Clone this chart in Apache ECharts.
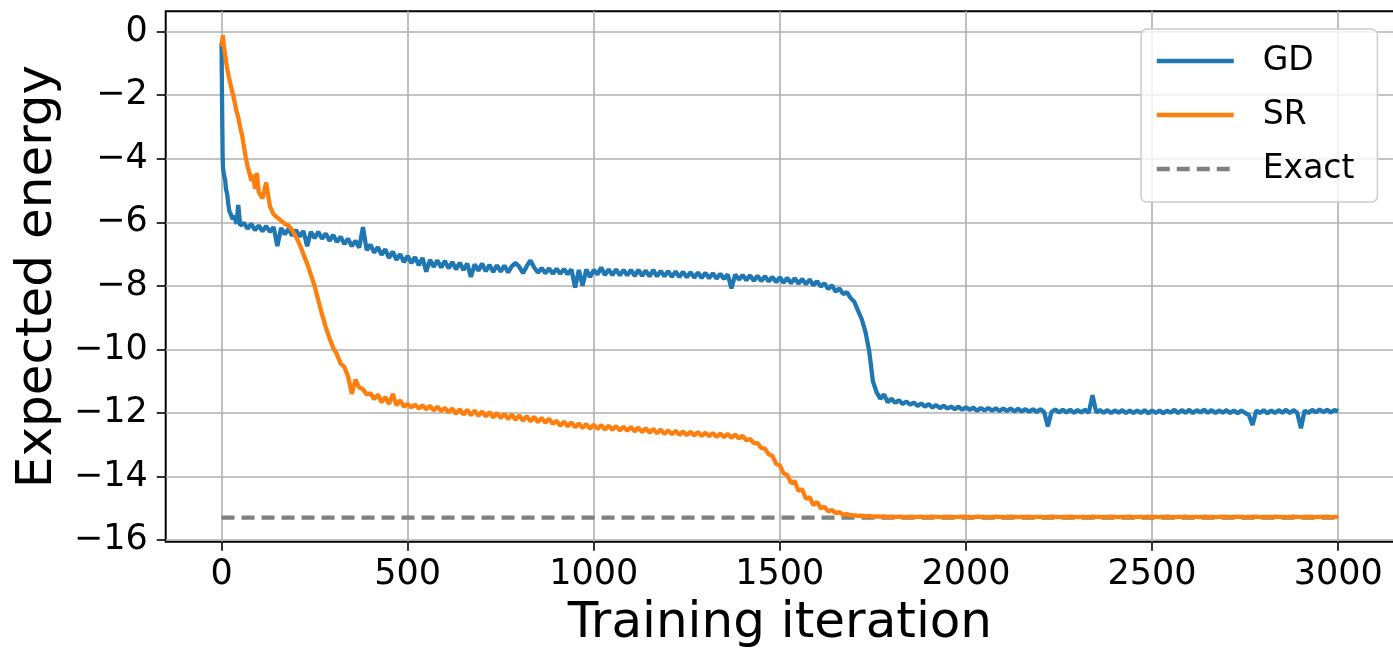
<!DOCTYPE html>
<html>
<head>
<meta charset="utf-8">
<script src="https://cdn.jsdelivr.net/npm/echarts@6/dist/echarts.min.js"></script>
<style>
html,body{margin:0;padding:0;background:#ffffff;}
#chart{width:1393px;height:651px;}
</style>
</head>
<body>
<div id="chart"></div>
<script>
// ---------- tick labels ----------
const xTicks = [0, 500, 1000, 1500, 2000, 2500, 3000];
const yTicks = [-16, -14, -12, -10, -8, -6, -4, -2, 0];

// ---------- series names ----------
const seriesNames = ['GD', 'SR', 'Exact'];

// ---------- GD (gradient descent) ----------
const gdEarlyIter = [0, 1, 2, 3, 4, 6, 8, 10, 12, 15, 18, 21, 25, 30, 35, 40, 45, 50];
const gdEarlyVal  = [-0.35, -1.6, -2.9, -3.9, -4.3, -4.45, -4.5, -4.7, -4.95, -5.1, -5.4, -5.65, -5.75, -5.9, -5.8, -6.05, -5.45, -6.1];
const gdStepStart = 60;   // iteration of first value in gdStepVal
const gdStepSize = 10;    // iterations between values in gdStepVal
const gdStepVal = [
  -6.02,-6.2,-6.05,-6.25,-6.1,-6.28,-6.12,-6.3,-6.15,-6.75,
  -6.18,-6.38,-6.2,-6.42,-6.24,-6.45,-6.27,-6.75,-6.3,-6.5,
  -6.3,-6.52,-6.35,-6.58,-6.4,-6.62,-6.45,-6.68,-6.52,-6.75,
  -6.58,-6.8,-6.15,-6.88,-6.7,-6.95,-6.78,-7.02,-6.85,-7.12,
  -6.92,-7.18,-7.0,-7.25,-7.06,-7.28,-7.1,-7.35,-7.12,-7.55,
  -7.18,-7.4,-7.2,-7.42,-7.22,-7.45,-7.25,-7.48,-7.27,-7.5,
  -7.3,-7.72,-7.32,-7.52,-7.3,-7.54,-7.34,-7.56,-7.35,-7.55,
  -7.36,-7.58,-7.38,-7.28,-7.4,-7.6,-7.38,-7.2,-7.42,-7.58,
  -7.44,-7.6,-7.45,-7.62,-7.46,-7.62,-7.47,-7.63,-7.48,-8.05,
  -7.5,-8.0,-7.48,-7.72,-7.5,-7.64,-7.42,-7.66,-7.48,-7.66,
  -7.48,-7.67,-7.5,-7.67,-7.5,-7.68,-7.5,-7.68,-7.52,-7.7,
  -7.5,-7.7,-7.53,-7.7,-7.54,-7.71,-7.55,-7.72,-7.56,-7.73,
  -7.57,-7.74,-7.58,-7.75,-7.59,-7.76,-7.6,-7.77,-7.62,-7.78,
  -7.64,-8.08,-7.64,-7.8,-7.66,-7.82,-7.67,-7.84,-7.68,-7.85,
  -7.7,-7.86,-7.72,-7.88,-7.73,-7.9,-7.75,-7.92,-7.76,-7.93,
  -7.78,-7.95,-7.8,-7.98,-7.85,-8.02,-7.92,-8.1,-7.98,-8.18,
  -8.08,-8.26,-8.2,-8.38,-8.5,-8.78,-9.05,-9.45,-10.05,-11.0,
  -11.35,-11.55,-11.42,-11.66,-11.55,-11.68,-11.6,-11.72,-11.64,-11.74,
  -11.67,-11.78,-11.7,-11.8,-11.72,-11.83,-11.75,-11.85,-11.77,-11.86,
  -11.8,-11.88,-11.8,-11.9,-11.82,-11.9,-11.83,-11.93,-11.84,-11.92,
  -11.84,-11.93,-11.85,-11.94,-11.86,-11.94,-11.86,-11.95,-11.87,-11.95,
  -11.88,-11.96,-11.88,-11.97,-11.88,-11.97,-12.42,-11.96,-11.89,-11.98,
  -11.9,-11.98,-11.9,-11.99,-11.91,-11.98,-11.9,-11.99,-11.44,-11.98,
  -11.91,-11.99,-11.91,-12.0,-11.92,-11.99,-11.91,-12.0,-11.92,-12.0,
  -11.92,-12.0,-11.91,-12.01,-11.92,-12.0,-11.92,-12.01,-11.93,-11.99,
  -11.9,-12.0,-11.91,-11.99,-11.9,-12.0,-11.91,-11.98,-11.9,-11.99,
  -11.91,-12.0,-11.92,-11.99,-11.91,-12.0,-11.92,-12.01,-11.92,-12.0,
  -12.06,-12.38,-11.92,-12.0,-11.91,-12.01,-11.92,-12.0,-11.91,-11.99,
  -11.9,-12.0,-11.91,-11.99,-12.48,-11.92,-12.0,-11.9,-11.98,-11.89,
  -11.97,-11.9,-11.98,-11.91,-11.95
];

// ---------- SR (stochastic reconfiguration) ----------
const srEarlyIter = [0, 2, 4, 6, 8, 10, 13, 16, 20, 25, 30, 35, 40, 45, 50, 55, 60, 65, 70, 75, 80, 85, 90, 95, 100];
const srEarlyVal  = [-0.45, -0.25, -0.12, -0.45, -0.6, -0.75, -1.0, -1.2, -1.45, -1.7, -1.95, -2.2, -2.5, -2.7, -3.0, -3.25, -3.6, -3.95, -4.25, -4.45, -4.7, -4.5, -4.95, -4.45, -5.05];
const srStepStart = 110;
const srStepSize = 10;
const srStepVal = [
  -5.25,-4.75,-5.5,-5.75,-5.85,-5.95,-6.05,-6.1,-6.25,-6.45,
  -6.7,-7.0,-7.3,-7.65,-8.0,-8.45,-8.9,-9.3,-9.65,-9.95,
  -10.15,-10.45,-10.55,-10.85,-11.4,-10.95,-11.2,-11.25,-11.42,-11.38,
  -11.56,-11.42,-11.66,-11.5,-11.72,-11.4,-11.76,-11.6,-11.8,-11.72,
  -11.82,-11.74,-11.86,-11.76,-11.88,-11.78,-11.92,-11.8,-11.94,-11.84,
  -11.98,-11.86,-12.02,-11.88,-12.05,-11.9,-12.07,-11.92,-12.09,-11.95,
  -12.11,-11.97,-12.14,-12.0,-12.16,-12.03,-12.19,-12.05,-12.21,-12.08,
  -12.24,-12.1,-12.26,-12.12,-12.29,-12.15,-12.31,-12.18,-12.34,-12.25,
  -12.4,-12.27,-12.42,-12.3,-12.45,-12.33,-12.47,-12.35,-12.49,-12.37,
  -12.5,-12.38,-12.52,-12.4,-12.53,-12.41,-12.55,-12.43,-12.56,-12.44,
  -12.58,-12.46,-12.6,-12.48,-12.62,-12.5,-12.64,-12.52,-12.66,-12.55,
  -12.67,-12.56,-12.69,-12.58,-12.7,-12.59,-12.71,-12.6,-12.72,-12.62,
  -12.73,-12.63,-12.75,-12.65,-12.76,-12.66,-12.78,-12.68,-12.8,-12.72,
  -12.86,-12.82,-12.95,-12.95,-13.1,-13.12,-13.3,-13.35,-13.6,-13.65,
  -13.9,-13.95,-14.2,-14.15,-14.45,-14.4,-14.7,-14.65,-14.9,-14.8,
  -15.0,-14.95,-15.1,-15.05,-15.15,-15.12,-15.2,-15.18,-15.22,-15.22,
  -15.24,-15.23,-15.25,-15.24,-15.26,-15.25,-15.26,-15.25,-15.27,-15.26,
  -15.27,-15.26,-15.27,-15.28,-15.26,-15.27,-15.27,-15.26,-15.28,-15.27,
  -15.26,-15.27,-15.28,-15.27,-15.26,-15.27,-15.28,-15.27,-15.26,-15.27,
  -15.27,-15.28,-15.26,-15.27,-15.27,-15.28,-15.27,-15.26,-15.27,-15.28,
  -15.27,-15.26,-15.27,-15.28,-15.27,-15.27,-15.26,-15.28,-15.27,-15.27,
  -15.28,-15.27,-15.26,-15.27,-15.28,-15.27,-15.27,-15.26,-15.27,-15.28,
  -15.27,-15.27,-15.28,-15.26,-15.27,-15.27,-15.28,-15.27,-15.26,-15.27,
  -15.28,-15.27,-15.27,-15.26,-15.28,-15.27,-15.27,-15.28,-15.26,-15.27,
  -15.27,-15.28,-15.27,-15.26,-15.27,-15.28,-15.27,-15.27,-15.26,-15.28,
  -15.27,-15.27,-15.28,-15.26,-15.27,-15.27,-15.28,-15.27,-15.26,-15.27,
  -15.28,-15.27,-15.26,-15.27,-15.28,-15.27,-15.27,-15.26,-15.28,-15.27,
  -15.27,-15.28,-15.26,-15.27,-15.27,-15.28,-15.27,-15.26,-15.27,-15.28,
  -15.27,-15.26,-15.27,-15.28,-15.27,-15.27,-15.26,-15.28,-15.27,-15.27
];

// ---------- Exact ground-state energy ----------
const exactIter = [0, 3000];
const exactVal  = [-15.29, -15.29];

// ---------- build [x, y] pairs ----------
function buildPairs(earlyIter, earlyVal, stepStart, stepSize, stepVal) {
  const out = [];
  for (let i = 0; i < earlyIter.length; i++) out.push([earlyIter[i], earlyVal[i]]);
  for (let i = 0; i < stepVal.length; i++) out.push([stepStart + i * stepSize, stepVal[i]]);
  return out;
}
const gdData = buildPairs(gdEarlyIter, gdEarlyVal, gdStepStart, gdStepSize, gdStepVal);
const srData = buildPairs(srEarlyIter, srEarlyVal, srStepStart, srStepSize, srStepVal);
const exactData = exactIter.map((x, i) => [x, exactVal[i]]);

const FONT = 'DejaVu Sans';
const minus = v => String(v).replace('-', '\u2212');

const chart = echarts.init(document.getElementById('chart'), null, {renderer: 'canvas'});
chart.setOption({
  animation: false,
  backgroundColor: '#ffffff',
  grid: {
    left: 165.7, top: 11.3, width: 1228.3, height: 530.4,
    containLabel: false,
    outerBoundsMode: 'none',
    show: true,
    borderColor: '#000000',
    borderWidth: 2,
    backgroundColor: 'transparent'
  },
  legend: {
    data: seriesNames,
    orient: 'vertical',
    left: 1141, top: 29,
    padding: [15, 23, 16, 13.6],
    itemWidth: 77, itemHeight: 14, itemGap: 20,
    backgroundColor: 'rgba(255,255,255,0.8)',
    borderColor: '#cccccc', borderWidth: 1.5, borderRadius: 6,
    itemStyle: {opacity: 0},
    lineStyle: {width: 4.3},
    textStyle: {fontFamily: FONT, fontSize: 33, color: '#000000', lineHeight: 34, padding: [0, 0, 0, 24]}
  },
  xAxis: {
    type: 'value',
    min: -150, max: 3150,
    name: 'Training iteration',
    nameLocation: 'middle',
    nameGap: 57,
    nameTextStyle: {fontFamily: FONT, fontSize: 50, color: '#000000'},
    axisLine: {show: false, onZero: false},
    axisTick: {show: true, customValues: xTicks, length: 9, lineStyle: {color: '#000000', width: 1.6}},
    axisLabel: {customValues: xTicks, fontFamily: FONT, fontSize: 35, color: '#000000', margin: 16, formatter: v => String(v)},
    splitLine: {show: true, lineStyle: {color: '#b0b0b0', width: 1.6}}
  },
  yAxis: {
    type: 'value',
    min: -16.05, max: 0.64,
    name: 'Expected energy',
    nameLocation: 'middle',
    nameGap: 100,
    nameTextStyle: {fontFamily: FONT, fontSize: 50, color: '#000000'},
    axisLine: {show: false, onZero: false},
    axisTick: {show: true, customValues: yTicks, length: 9, lineStyle: {color: '#000000', width: 1.6}},
    axisLabel: {customValues: yTicks, fontFamily: FONT, fontSize: 35, color: '#000000', margin: 18, formatter: minus},
    splitLine: {show: true, lineStyle: {color: '#b0b0b0', width: 1.6}}
  },
  series: [
    {
      name: seriesNames[0], type: 'line', data: gdData, z: 2,
      symbol: 'none', showSymbol: false, silent: true,
      lineStyle: {color: '#1f77b4', width: 4.3},
      itemStyle: {color: '#1f77b4'}
    },
    {
      name: seriesNames[1], type: 'line', data: srData, z: 3,
      symbol: 'none', showSymbol: false, silent: true,
      lineStyle: {color: '#ff7f0e', width: 4.3},
      itemStyle: {color: '#ff7f0e'}
    },
    {
      name: seriesNames[2], type: 'line', data: exactData, z: 1,
      symbol: 'none', showSymbol: false, silent: true,
      lineStyle: {color: '#808080', width: 4.3, type: [13, 7]},
      itemStyle: {color: '#808080'}
    }
  ]
});
</script>
</body>
</html>
